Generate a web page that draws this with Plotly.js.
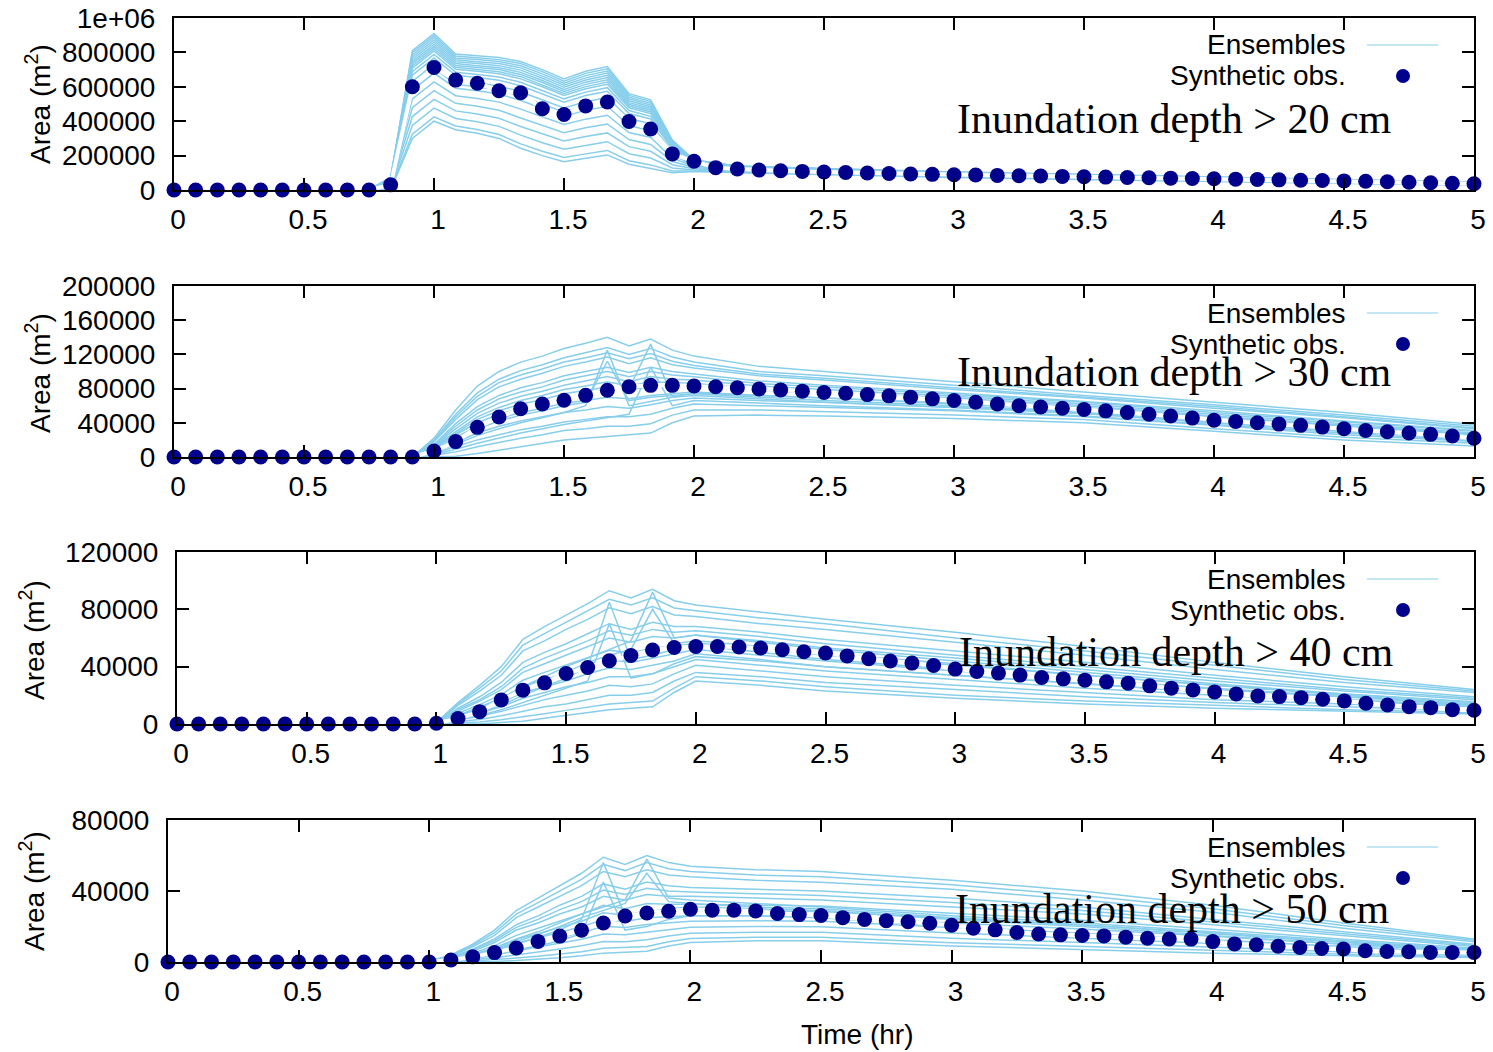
<!DOCTYPE html>
<html>
<head>
<meta charset="utf-8">
<script src="https://cdn.plot.ly/plotly-3.0.1.min.js"></script>
<style>
  html, body { margin: 0; padding: 0; background: #ffffff; }
  #chart { width: 1493px; height: 1052px; }
</style>
</head>
<body>
<div id="chart"></div>
<script>
// ---------------- DATA ----------------
// Observation times (hr), every 5 minutes
const timeHr = [0, 0.0833, 0.1667, 0.25, 0.3333, 0.4167, 0.5, 0.5833, 0.6667, 0.75,
  0.8333, 0.9167, 1, 1.0833, 1.1667, 1.25, 1.3333, 1.4167, 1.5, 1.5833,
  1.6667, 1.75, 1.8333, 1.9167, 2, 2.0833, 2.1667, 2.25, 2.3333, 2.4167,
  2.5, 2.5833, 2.6667, 2.75, 2.8333, 2.9167, 3, 3.0833, 3.1667, 3.25,
  3.3333, 3.4167, 3.5, 3.5833, 3.6667, 3.75, 3.8333, 3.9167, 4, 4.0833,
  4.1667, 4.25, 4.3333, 4.4167, 4.5, 4.5833, 4.6667, 4.75, 4.8333, 4.9167, 5];

// Synthetic observations, area (m^2)
const obs20 = [0, 0, 0, 0, 0, 0, 0, 0, 0, 0,
  30000, 600000, 712000, 639000, 621000, 577000, 565000, 472000, 439000, 489000,
  512000, 398000, 355000, 210000, 167000, 130000, 122000, 116000, 112000, 108000,
  105000, 102000, 99000, 96000, 93000, 91000, 89000, 87000, 85000, 83000,
  81000, 79000, 77000, 75000, 73000, 71000, 69000, 67000, 65000, 63000,
  61000, 59000, 57000, 55000, 53000, 51000, 48000, 45000, 42000, 39000, 36000];
const obs30 = [0, 0, 0, 0, 0, 0, 0, 0, 0, 0,
  0, 0, 7000, 18000, 34700, 46800, 56500, 62000, 66300, 72100,
  78000, 82200, 83800, 83800, 83000, 82200, 81000, 79500, 78500, 77000,
  75500, 74500, 73000, 71500, 70000, 68000, 66000, 64000, 62000, 60000,
  58500, 57000, 55500, 54000, 52000, 50000, 48000, 45500, 43000, 41500,
  40000, 38500, 37000, 35000, 33000, 31000, 29500, 28000, 26500, 24500, 22000];
const obs40 = [0, 0, 0, 0, 0, 0, 0, 0, 0, 0,
  0, 0, 500, 3800, 8600, 16800, 23600, 28700, 35200, 39400,
  44100, 47800, 51600, 53400, 54100, 54100, 53700, 53000, 51800, 50400,
  49500, 47500, 45500, 44000, 42500, 40800, 38300, 36600, 35500, 34100,
  32400, 31500, 30600, 29400, 28500, 26600, 25000, 23800, 22400, 21000,
  19600, 19100, 18400, 17300, 16100, 14500, 13300, 12100, 11400, 10000, 9600];
const obs50 = [0, 0, 0, 0, 0, 0, 0, 0, 0, 0,
  0, 0, 0, 1100, 2900, 5300, 7900, 11600, 14600, 17900,
  22000, 25900, 27600, 28600, 29700, 29200, 29200, 28800, 27300, 26700,
  26200, 25000, 24000, 23300, 22700, 21800, 20700, 19000, 18100, 16600,
  15800, 15300, 14900, 14700, 14000, 13400, 13000, 12900, 11500, 10200,
  9700, 8900, 8200, 7600, 7300, 6300, 5900, 5800, 5400, 5400, 5400];

// Ensemble members (values in thousands of m^2), sampled at their own times (hr)
const ENS_UNIT = 1000;
const ensTime20 = [0, 0.75, 0.8333, 0.9167, 1, 1.0833, 1.1667, 1.25, 1.3333, 1.4167, 1.5, 1.5833,
  1.6667, 1.75, 1.8333, 1.9167, 2, 2.1667, 2.5, 3, 3.5, 4, 4.5, 5];
const ens20 = [
  [0,0,75,810,910,790,780,770,747,700,645,690,718,560,524,290,175,140,125,105,90,75,62,45],
  [0,0,73,798,898,779,769,758,735,688,633,678,705,550,514,286,174,139,124,104,90,75,62,45],
  [0,0,71,785,885,768,758,747,722,675,621,665,692,540,504,281,172,138,123,103,89,74,61,44],
  [0,0,69,772,872,757,746,735,710,662,609,652,680,530,494,276,170,137,122,102,88,73,61,44],
  [0,0,68,759,859,746,735,723,697,650,597,640,667,519,484,271,168,136,122,102,87,73,60,43],
  [0,0,66,746,846,735,723,711,684,637,585,627,654,508,474,266,166,135,121,101,86,72,60,43],
  [0,0,64,734,834,724,712,700,671,625,573,614,641,498,464,261,165,134,120,100,86,71,59,42],
  [0,0,62,721,821,713,701,688,659,612,561,601,628,488,454,256,163,133,119,99,85,71,58,42],
  [0,0,60,708,808,702,690,676,646,600,549,589,615,478,444,252,161,132,118,98,84,70,58,42],
  [0,0,57,688,788,685,672,657,626,580,530,569,595,462,428,244,158,130,116,97,83,69,57,41],
  [0,0,54,667,767,667,654,638,606,560,511,549,574,445,413,237,156,129,115,96,82,68,56,40],
  [0,0,49,631,731,636,622,605,571,525,477,513,538,416,385,223,151,126,113,94,80,66,54,39],
  [0,0,45,605,705,614,600,582,545,500,453,488,512,396,365,213,148,124,111,92,78,65,53,38],
  [0,0,41,580,680,592,577,558,520,475,429,463,487,375,345,204,144,122,109,90,77,64,52,37],
  [0,0,34,529,629,548,532,511,470,425,381,412,435,334,305,185,138,118,106,87,75,61,50,36],
  [0,0,26,478,578,504,487,464,419,375,333,362,384,293,265,166,131,114,102,84,72,59,48,34],
  [0,0,19,427,527,460,442,417,369,325,285,311,332,252,225,147,124,110,99,80,69,56,46,32],
  [0,0,11,376,476,416,397,370,319,275,237,261,281,211,186,128,117,106,95,77,66,54,43,31],
  [0,0,4,325,425,372,352,323,268,225,189,210,230,170,146,110,110,102,92,74,63,51,41,29],
  [0,0,0,300,400,350,330,300,243,200,165,185,204,150,126,100,107,100,90,72,62,50,40,28]
];
const ensTime30 = [0, 0.9167, 1, 1.0833, 1.1667, 1.25, 1.3333, 1.4167, 1.5, 1.5833, 1.6667, 1.75,
  1.8333, 1.9167, 2, 2.25, 2.5, 3, 3.5, 4, 4.5, 5];
const ens30 = [
  [0,0,22,55,83,100,111,118,127,133,140,130,138,125,118,106,100,88,76,64,52,38],
  [0,0,20,50,75,91,101,108,116,122,128,120,127,117,111,100,95,84,72,61,49,36],
  [0,0,19,47,71,87,96,103,111,116,122,115,121,112,107,97,92,81,70,59,47,34],
  [0,0,18,44,67,82,91,98,106,111,117,109,116,108,104,95,90,79,69,57,46,33],
  [0,0,15,39,59,72,81,87,95,100,105,99,105,100,97,89,84,75,65,54,42,31],
  [0,0,14,36,55,68,76,82,90,95,100,94,100,96,94,86,82,73,64,52,41,30],
  [0,0,13,33,51,63,71,77,84,89,94,88,94,91,90,83,79,71,62,50,39,28],
  [0,0,12,30,47,58,66,72,79,83,88,83,88,87,86,80,76,69,60,48,37,27],
  [0,0,11,28,44,54,62,67,74,78,82,78,83,83,83,78,74,67,58,47,36,26],
  [0,0,9,23,36,45,52,57,63,66,70,68,72,74,76,72,69,62,54,44,33,23],
  [0,0,7,17,28,36,42,47,52,55,59,57,61,66,69,66,64,58,51,40,30,21],
  [0,0,4,12,20,26,32,36,41,44,47,47,50,57,62,60,58,54,47,37,26,18],
  [0,0,2,6,12,17,22,26,31,33,36,36,39,49,55,55,53,49,44,33,23,16],
  [0,0,0,1,4,8,12,16,20,22,24,26,28,40,48,49,48,45,40,30,20,13],
  [0,0,5,15,25,33,40,46,52,60,125,60,65,70,72,68,64,58,51,40,30,21],
  [0,0,10,26,40,50,57,62,68,72,78,80,132,70,75,72,69,63,55,45,34,24],
  [0,0,3,9,16,22,28,33,38,42,46,50,105,60,66,63,60,55,48,38,28,19],
  [0,0,8,21,33,42,49,54,60,64,112,66,70,72,74,70,66,60,52,42,32,22]
];
const ensTime40 = [0, 1, 1.0833, 1.1667, 1.25, 1.3333, 1.4167, 1.5, 1.5833, 1.6667, 1.75, 1.8333,
  1.9167, 2, 2.25, 2.5, 3, 3.5, 4, 4.5, 5];
const ens40 = [
  [0,1,15,27,40,59,68,76,84,93,88,94,86,83,78,73,64,54,43,33,24],
  [0,1,14,25,37,55,63,71,79,87,83,88,81,79,74,70,60,51,41,31,23],
  [0,1,13,23,34,51,58,66,73,81,77,82,76,75,70,66,57,48,38,29,22],
  [0,1,11,19,29,43,50,56,63,70,66,71,68,68,64,59,51,43,34,26,19],
  [0,1,10,17,26,39,46,52,58,65,62,66,64,65,61,56,48,40,32,24,18],
  [0,1,9,16,24,36,42,48,54,60,57,61,60,62,58,53,46,38,30,23,17],
  [0,0.5,7.5,13.5,20.5,30.5,36,41,46,51.5,49.5,53,54,56.5,52.5,48,41,34,27,21,15.5],
  [0,0.4,6,11,17,26,31,35,40,45,43,46,49,52,48,44,37,31,24,19,14],
  [0,0.3,5,9.5,15,22,26,30,35,39,38,41,44,49,45,40,34,28,22,17,13],
  [0,0.3,4,7.6,12,18,22,26,29,33,33,35,40,45,41,37,31,25,20,16,12],
  [0,0.2,3,5.4,8.8,13,17,20,23,27,26,28,35,41,37,33,27,22,17,14,10],
  [0,0.1,1.8,3.2,5.7,8.8,12,14,17,20,20,22,30,36,33,29,24,19,15,12,9],
  [0,0,0.8,1.4,3,4.9,7.2,9.5,12,14,15,16,25,33,30,26,20,16,13,10,8],
  [0,0,0,0,1,2,4,6,8,10,11,12,22,30,27,23,18,14,11,9,7],
  [0,0,4,8,13,20,26,32,40,85,45,48,52,55,50,45,38,31,25,19,13],
  [0,0,6,12,18,26,33,40,46,52,58,92,60,62,57,52,44,36,28,21,15],
  [0,0,3,6,10,15,20,25,30,70,32,35,42,47,44,40,34,28,22,17,12],
  [0,0,5,10,16,23,29,36,43,48,52,80,56,58,54,49,42,34,27,20,14]
];
const ensTime50 = [0, 1, 1.0833, 1.1667, 1.25, 1.3333, 1.4167, 1.5, 1.5833, 1.6667, 1.75, 1.8333,
  1.9167, 2, 2.25, 2.5, 3, 3.5, 4, 4.5, 5];
const ens50 = [
  [0,0.5,4,10,18,29,36,43,50,59,55,60,56,54,52,51,46,40,32,22,13],
  [0,0.4,3.7,9.2,16.5,27,33.5,40,46.5,55,51.5,56,52.5,51,49,48,43.5,37.5,30,20.5,12.2],
  [0,0.4,3.4,8.5,15,25,31,37,43,51,48,52,49,48,46,45,41,35,28,19,11.4],
  [0,0.4,2.9,7.2,13,21,26,32,37,44,41,45,43,42,41,40,36,31,24,17,10],
  [0,0.3,2.6,6.6,12,19.5,24,29.5,34,40.5,38,41.5,40,39.5,38.5,37.5,33.5,29,22.5,16,9.4],
  [0,0.3,2.4,6,11,18,22,27,31,37,35,38,37,37,36,35,31,27,21,15,8.8],
  [0,0.25,2,5,9.2,15,19,23,27,32,30,33,32.5,32.5,32,31.5,27.5,23.5,18.5,12.8,7.8],
  [0,0.2,1.7,4.2,7.7,12.6,16,19.5,23,27.7,26.3,28.7,28.7,29.1,28.8,28.4,24.5,20.9,16.3,11.3,6.9],
  [0,0.18,1.4,3.5,6.5,10.7,13.6,16.6,19.8,23.9,22.8,24.9,25.5,26.1,26,25.7,22,18.6,14.5,10,6.2],
  [0,0.14,1.1,2.8,5.3,8.7,11.2,13.8,16.5,20.1,19.4,21.1,22.2,23,23.2,22.9,19.4,16.2,12.6,8.7,5.4],
  [0,0.1,0.8,2,3.8,6.4,8.4,10.5,12.8,15.8,15.4,16.8,18.4,19.6,20,19.8,16.4,13.6,10.4,7.2,4.6],
  [0,0.06,0.5,1.2,2.4,4.2,5.6,7.3,9.1,11.5,11.4,12.5,14.6,16.2,16.8,16.7,13.4,11,8.2,5.7,3.8],
  [0,0,0.2,0.5,1.2,2.2,3.2,4.4,5.8,7.7,8,8.7,11.4,13.2,14,14,10.9,8.7,6.4,4.4,3],
  [0,0,0,0,0.3,0.8,1.5,2.4,3.5,5,5.5,6,9,11,12,12,9,7,5,3.5,2.5],
  [0,0,1,3,6,10,14,18,24,56,26,28,30,31,30,29,24,20,15,10,6],
  [0,0,1.5,4,8,13,17,22,27,31,35,58,36,35,33,31,26,22,17,12,7],
  [0,0,0.8,2,4,7,9,12,16,45,18,20,24,26,26,25,20,16,12,8,5],
  [0,0,1.2,3.5,7,11.5,15.5,20,25,29,33,50,34,33,31,30,25,21,16,11,6.5]
];

// Tick labels
const xTickVals = [0, 0.5, 1, 1.5, 2, 2.5, 3, 3.5, 4, 4.5, 5];
const xTickText = ["0", "0.5", "1", "1.5", "2", "2.5", "3", "3.5", "4", "4.5", "5"];
const yTickVals20 = [0, 200000, 400000, 600000, 800000, 1000000];
const yTickText20 = ["0", "200000", "400000", "600000", "800000", "1e+06"];
const yTickVals30 = [0, 40000, 80000, 120000, 160000, 200000];
const yTickText30 = ["0", "40000", "80000", "120000", "160000", "200000"];
const yTickVals40 = [0, 40000, 80000, 120000];
const yTickText40 = ["0", "40000", "80000", "120000"];
const yTickVals50 = [0, 40000, 80000];
const yTickText50 = ["0", "40000", "80000"];

const panelLabels = ["Inundation depth > 20 cm", "Inundation depth > 30 cm",
  "Inundation depth > 40 cm", "Inundation depth > 50 cm"];
const legendLabels = ["Ensembles", "Synthetic obs."];
const yTitleText = "Area (m<sup>2</sup>)";
const xTitleText = "Time (hr)";

// ---------------- LAYOUT HELPERS ----------------
const W = 1493, H = 1052;
const px = v => v / W;
const py = v => 1 - v / H;

const ENS_COLOR = "#87ceeb";
const OBS_COLOR = "#00008b";
const SANS = "Liberation Sans, Arial, Helvetica, sans-serif";
const SERIF = "Liberation Serif, Times New Roman, serif";

const panels = [
  { sfx: "",  box: [174, 1474, 18, 190],  ymax: 1000000, tv: yTickVals20, tt: yTickText20,
    ensT: ensTime20, ens: ens20, obs: obs20, labelX: 955, labelY: 119, titleX: 38, titleY: 104 },
  { sfx: "2", box: [174, 1474, 286, 457], ymax: 200000, tv: yTickVals30, tt: yTickText30,
    ensT: ensTime30, ens: ens30, obs: obs30, labelX: 955, labelY: 372, titleX: 38, titleY: 373 },
  { sfx: "3", box: [177, 1474, 552, 724], ymax: 120000, tv: yTickVals40, tt: yTickText40,
    ensT: ensTime40, ens: ens40, obs: obs40, labelX: 957, labelY: 652, titleX: 32, titleY: 640 },
  { sfx: "4", box: [168, 1474, 820, 962], ymax: 80000, tv: yTickVals50, tt: yTickText50,
    ensT: ensTime50, ens: ens50, obs: obs50, labelX: 953, labelY: 909, titleX: 32, titleY: 891 }
];

const traces = [];
const layout = {
  width: W, height: H,
  margin: { l: 0, r: 0, t: 0, b: 0, pad: 0 },
  paper_bgcolor: "#ffffff", plot_bgcolor: "#ffffff",
  showlegend: false,
  font: { family: SANS, size: 28, color: "#000000" },
  annotations: [], shapes: []
};

panels.forEach((p, idx) => {
  const xa = "x" + p.sfx, ya = "y" + p.sfx;
  p.ens.forEach((member) => {
    traces.push({
      type: "scatter", mode: "lines", name: "Ensembles",
      x: p.ensT, y: member.map(v => v * ENS_UNIT),
      xaxis: xa, yaxis: ya,
      line: { color: ENS_COLOR, width: 1.5 },
      hoverinfo: "skip", showlegend: false
    });
  });
  traces.push({
    type: "scatter", mode: "lines+markers", name: "Synthetic obs.",
    x: timeHr, y: p.obs, xaxis: xa, yaxis: ya,
    line: { color: "#ffffff", width: 4 },
    marker: { color: OBS_COLOR, size: 15 },
    cliponaxis: false, showlegend: false
  });

  const common = {
    showline: true, linecolor: "#000000", linewidth: 2, mirror: "allticks",
    ticks: "inside", ticklen: 12, tickwidth: 2, tickcolor: "#000000",
    showgrid: false, zeroline: false, fixedrange: true,
    tickfont: { family: SANS, size: 28, color: "#000000" }
  };
  const [x0, x1, y0, y1] = p.box;
  layout["xaxis" + p.sfx] = Object.assign({}, common, {
    domain: [px(x0), px(x1)], anchor: ya, range: [0, 5],
    tickmode: "array", tickvals: xTickVals, ticktext: xTickText,
    ticklabelstandoff: 3, ticklabelshift: 4
  });
  layout["yaxis" + p.sfx] = Object.assign({}, common, {
    domain: [py(y1), py(y0)], anchor: xa, range: [0, p.ymax],
    tickmode: "array", tickvals: p.tv, ticktext: p.tt,
    ticklabelstandoff: 11
  });

  // panel label
  layout.annotations.push({
    xref: "paper", yref: "paper", x: px(p.labelX), y: py(p.labelY),
    xanchor: "left", yanchor: "middle", showarrow: false,
    text: panelLabels[idx], font: { family: SERIF, size: 42, color: "#000000" }
  });
  // y title
  layout.annotations.push({
    xref: "paper", yref: "paper", x: px(p.titleX), y: py(p.titleY),
    xanchor: "center", yanchor: "middle", showarrow: false, textangle: -90,
    text: yTitleText, font: { family: SANS, size: 28, color: "#000000" }
  });
  // legend key text
  const r1 = y0 + 27, r2 = y0 + 58;
  layout.annotations.push({
    xref: "paper", yref: "paper", x: px(1348), y: py(r1),
    xanchor: "right", yanchor: "middle", showarrow: false,
    text: legendLabels[0], font: { family: SANS, size: 28, color: "#000000" }
  });
  layout.annotations.push({
    xref: "paper", yref: "paper", x: px(1348), y: py(r2),
    xanchor: "right", yanchor: "middle", showarrow: false,
    text: legendLabels[1], font: { family: SANS, size: 28, color: "#000000" }
  });
  // legend key samples
  layout.shapes.push({
    type: "line", xref: "paper", yref: "paper",
    x0: px(1367), x1: px(1438), y0: py(r1), y1: py(r1),
    line: { color: ENS_COLOR, width: 1 }
  });
  layout.shapes.push({
    type: "circle", xref: "paper", yref: "paper",
    x0: px(1403 - 7), x1: px(1403 + 7), y0: py(r2 + 7), y1: py(r2 - 7),
    fillcolor: OBS_COLOR, line: { color: OBS_COLOR, width: 0 }
  });
});

layout.annotations.push({
  xref: "paper", yref: "paper", x: px(857), y: py(1034),
  xanchor: "center", yanchor: "middle", showarrow: false,
  text: xTitleText, font: { family: SANS, size: 28, color: "#000000" }
});

Plotly.newPlot("chart", traces, layout, { displayModeBar: false, staticPlot: true });
</script>
</body>
</html>
